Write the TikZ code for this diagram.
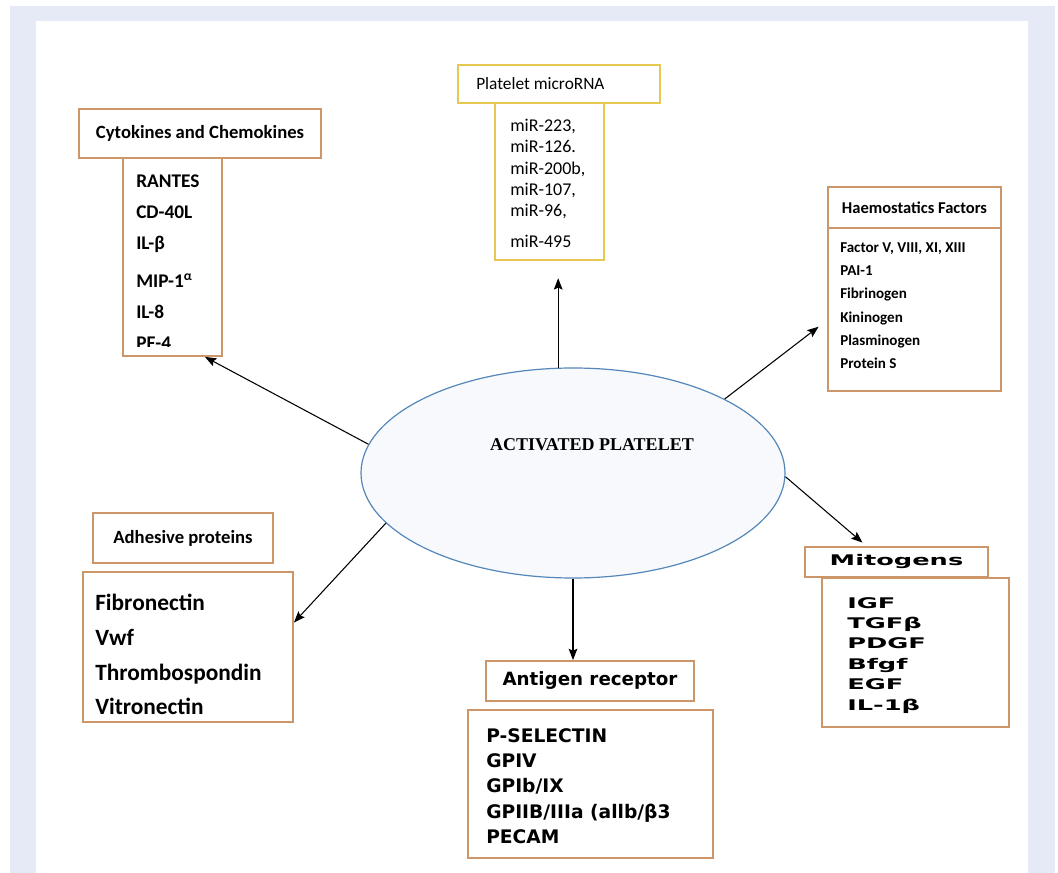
\documentclass[tikz,border=0pt]{standalone}
\usepackage{fontspec}
\setmainfont{Carlito}
\newfontfamily\verdfont{DejaVu Sans}
\newfontfamily\widefont[FakeStretch=1.75]{DejaVu Sans}
\newfontfamily\timesfont{Liberation Serif}
\usetikzlibrary{arrows.meta,fit,shapes.geometric}
\definecolor{bandblue}{RGB}{230,234,246}
\definecolor{boxtan}{RGB}{205,150,105}
\definecolor{boxgold}{RGB}{232,200,80}
\definecolor{platedge}{RGB}{85,135,185}
\definecolor{platfill}{RGB}{247,249,252}
\begin{document}
\begin{tikzpicture}[x=0.75pt,y=-0.75pt,
    hdr/.style={draw=boxtan, line width=1.4pt, fill=white, inner sep=0pt},
    items/.style={anchor=north west, inner sep=0pt, align=left},
    arr/.style={-{Stealth[length=8.5pt,width=6.5pt,inset=1.5pt]}, line width=0.8pt}]

  % Page and frame
  \fill[white] (0,0) rectangle (1058,873);
  \fill[bandblue] (10,6) rectangle (1055,873);
  \fill[white] (36,21) rectangle (1028,873);

  % Centre
  \node[ellipse, draw=platedge, line width=0.9pt, fill=platfill,
        minimum width=318pt, minimum height=157.5pt, inner sep=0pt] (plat) at (573,473) {};
  \node[font=\timesfont\bfseries\fontsize{13.5}{16}\selectfont] (platlbl) at (592,445) {ACTIVATED PLATELET};

  % Cytokines and chemokines
  \node[hdr, fit={(79,109) (321,158)}] (cytoH) {};
  \node[font=\bfseries\fontsize{14}{16}\selectfont] (cytoT) at (cytoH.center) {Cytokines and Chemokines};
  \node[hdr, fit={(123,158) (222,356)}] (cytoB) {};
  \begin{scope}
    \clip ([shift={(1,-1)}]cytoB.north west) rectangle ([yshift=7.5pt]cytoB.south east);
    \node[items, font=\bfseries\fontsize{14.5}{23}\selectfont] (cytoL) at (136,175)
      {RANTES\\CD-40L\\IL-β\\[6pt]MIP-1\textsuperscript{α}\\IL-8\\PF-4};
  \end{scope}

  % Platelet microRNA
  \node[hdr, draw=boxgold, fit={(458,65) (660,103)}] (rnaH) {};
  \node[anchor=west, inner sep=0pt, font=\fontsize{13}{15}\selectfont] (rnaT) at (476,84) {Platelet microRNA};
  \node[hdr, draw=boxgold, fit={(495,103) (604,260)}] (rnaB) {};
  \node[items, font=\fontsize{13.5}{16}\selectfont] (rnaL) at (510,119)
    {miR-223,\\miR-126.\\miR-200b,\\miR-107,\\miR-96,\\[7pt]miR-495};

  % Haemostatics factors
  \node[hdr, fit={(828,187) (1001,228)}] (haemH) {};
  \node[font=\bfseries\fontsize{12.4}{14}\selectfont] (haemT) at (haemH.center) {Haemostatics Factors};
  \node[hdr, fit={(828,228) (1001,391)}] (haemB) {};
  \node[items, font=\bfseries\fontsize{11.3}{17.5}\selectfont] (haemL) at (840,242)
    {Factor V, VIII, XI, XIII\\PAI-1\\Fibrinogen\\Kininogen\\Plasminogen\\Protein S};

  % Adhesive proteins
  \node[hdr, fit={(93,513) (273,563)}] (adhH) {};
  \node[font=\bfseries\fontsize{14}{16}\selectfont] (adhT) at (adhH.center) {Adhesive proteins};
  \node[hdr, fit={(83,572) (293,722)}] (adhB) {};
  \node[items, font=\bfseries\fontsize{17.5}{26}\selectfont] (adhL) at (95,594)
    {Fibronectin\\Vwf\\Thrombospondin\\Vitronectin};

  % Antigen receptor
  \node[hdr, fit={(486,661) (694,701)}] (antH) {};
  \node[font=\verdfont\bfseries\fontsize{13.7}{16}\selectfont] (antT) at (antH.center) {Antigen receptor};
  \node[hdr, fit={(468,710) (713,858)}] (antB) {};
  \node[items, font=\verdfont\bfseries\fontsize{14}{19}\selectfont] (antL) at (486,728)
    {P-SELECTIN\\GPIV\\GPIb/IX\\GPIIB/IIIa (allb/β3\\PECAM};

  % Mitogens
  \node[hdr, fit={(805,547) (988,577)}] (mitoH) {};
  \node[font=\widefont\bfseries\fontsize{11}{13}\selectfont] (mitoT) at (mitoH.center) {Mitogens};
  \node[hdr, fit={(822,578) (1009,727)}] (mitoB) {};
  \node[items, font=\widefont\bfseries\fontsize{11}{15.3}\selectfont] (mitoL) at (847,597)
    {IGF\\TGFβ\\PDGF\\Bfgf\\EGF\\IL-1β};

  % Arrows out of the platelet
  \draw[arr] (plat.172) -- (cytoB.-72);
  \draw[arr, shorten >=13pt] (plat.98) -- (plat.98 |- rnaB.south);
  \draw[arr, shorten >=8pt] (plat.26) -- (haemB.187);
  \draw[arr, shorten >=4pt] (plat.-1) -- (mitoH.152);
  \draw[arr] (plat.south) -- (plat.south |- antH.north);
  \draw[arr] (plat.195) -- (adhB.13);
\end{tikzpicture}
\end{document}
